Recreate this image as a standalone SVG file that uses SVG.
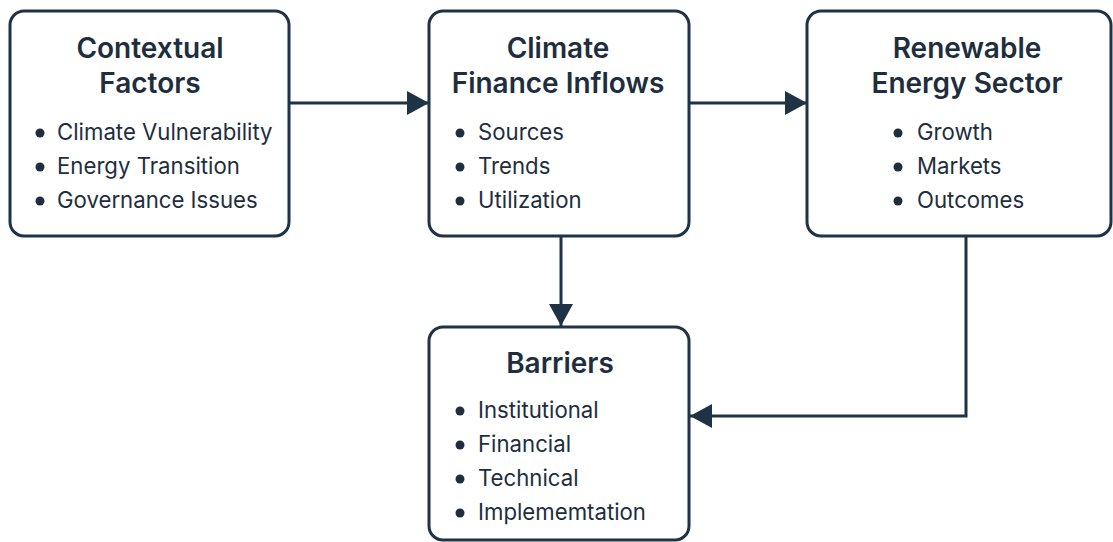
<svg xmlns="http://www.w3.org/2000/svg" width="1113" height="542" viewBox="0 0 1113 542">
  <style>
    .box { fill: #ffffff; stroke: #1f3347; stroke-width: 3; }
    .title { font-family: Inter, "Noto Sans", "Liberation Sans", sans-serif; font-size: 28px; font-weight: 600; fill: #1e2e3e; text-anchor: middle; }
    .item { font-family: Inter, "Noto Sans", "Liberation Sans", sans-serif; font-size: 22.2px; font-weight: 400; fill: #1e2e3e; }
    .dot { fill: #1e2e3e; }
    .conn { fill: none; stroke: #1f3347; stroke-width: 3; }
  </style>
  <defs>
    <marker id="arrow" viewBox="0 0 22 24" refX="22" refY="12" markerWidth="22" markerHeight="24" markerUnits="userSpaceOnUse" orient="auto">
      <path d="M0,0 L22,12 L0,24 Z" fill="#1f3347"/>
    </marker>
  </defs>
  <rect width="1113" height="542" fill="#ffffff"/>

  <g id="connectors">
    <line class="conn" x1="289" y1="103" x2="429" y2="103" marker-end="url(#arrow)"/>
    <line class="conn" x1="689" y1="103" x2="807" y2="103" marker-end="url(#arrow)"/>
    <line class="conn" x1="561" y1="236" x2="561" y2="326" marker-end="url(#arrow)"/>
    <polyline class="conn" points="966,236 966,416 690,416" marker-end="url(#arrow)"/>
  </g>

  <g id="contextual-factors">
    <rect class="box" x="10" y="11" width="279" height="225" rx="14"/>
    <text class="title" x="150" y="58">Contextual</text>
    <text class="title" x="150" y="93">Factors</text>
    <circle class="dot" cx="40" cy="133" r="4.5"/>
    <text class="item" x="57" y="140">Climate Vulnerability</text>
    <circle class="dot" cx="40" cy="167" r="4.5"/>
    <text class="item" x="57" y="174">Energy Transition</text>
    <circle class="dot" cx="40" cy="201" r="4.5"/>
    <text class="item" x="57" y="208">Governance Issues</text>
  </g>

  <g id="climate-finance-inflows">
    <rect class="box" x="429" y="11" width="260" height="225" rx="14"/>
    <text class="title" x="558" y="58">Climate</text>
    <text class="title" x="558" y="93">Finance Inflows</text>
    <circle class="dot" cx="460" cy="133" r="4.5"/>
    <text class="item" x="478" y="140">Sources</text>
    <circle class="dot" cx="460" cy="167" r="4.5"/>
    <text class="item" x="478" y="174">Trends</text>
    <circle class="dot" cx="460" cy="201" r="4.5"/>
    <text class="item" x="478" y="208">Utilization</text>
  </g>

  <g id="renewable-energy-sector">
    <rect class="box" x="807" y="11" width="304" height="225" rx="14"/>
    <text class="title" x="967" y="58">Renewable</text>
    <text class="title" x="967" y="93">Energy Sector</text>
    <circle class="dot" cx="898" cy="133" r="4.5"/>
    <text class="item" x="917" y="140">Growth</text>
    <circle class="dot" cx="898" cy="167" r="4.5"/>
    <text class="item" x="917" y="174">Markets</text>
    <circle class="dot" cx="898" cy="201" r="4.5"/>
    <text class="item" x="917" y="208">Outcomes</text>
  </g>

  <g id="barriers">
    <rect class="box" x="429" y="327" width="260" height="213" rx="14"/>
    <text class="title" x="560" y="373">Barriers</text>
    <circle class="dot" cx="460" cy="411" r="4.5"/>
    <text class="item" x="478" y="418">Institutional</text>
    <circle class="dot" cx="460" cy="445" r="4.5"/>
    <text class="item" x="478" y="452">Financial</text>
    <circle class="dot" cx="460" cy="479" r="4.5"/>
    <text class="item" x="478" y="486">Technical</text>
    <circle class="dot" cx="460" cy="513" r="4.5"/>
    <text class="item" x="478" y="520">Implememtation</text>
  </g>
</svg>
